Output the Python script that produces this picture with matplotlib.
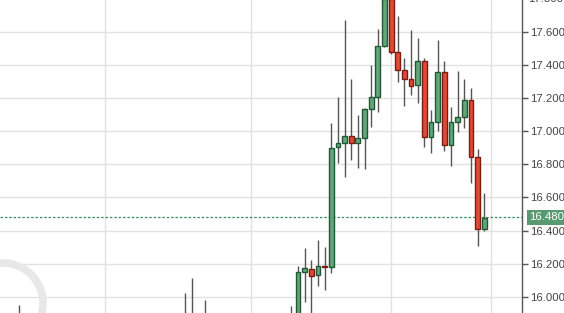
import matplotlib
matplotlib.use("Agg")
import matplotlib.pyplot as plt
from matplotlib.patches import Rectangle, Arc

# candle data (index relative to last candle, open, high, low, close)
idx = [-70, -45, -44, -42, -29,
       -28, -27, -26, -25, -24, -23, -22, -21, -20, -19,
       -18, -17, -16, -15, -14, -13, -12, -11, -10, -9,
       -8, -7, -6, -5, -4, -3, -2, -1, 0]
opens = [15.80, 15.80, 15.80, 15.80, 15.80,
         15.85, 16.148, 16.168, 16.130, 16.182, 16.180, 16.903, 16.927, 16.972, 16.927,
         16.960, 17.133, 17.205, 17.514, 17.800, 17.477, 17.369, 17.314, 17.278, 17.423,
         16.964, 17.054, 17.356, 16.915, 17.054, 17.085, 17.187, 16.843, 16.411]
highs = [15.95, 16.023, 16.115, 15.98, 15.946,
         16.188, 16.297, 16.222, 16.343, 16.303, 17.052, 17.209, 17.673, 17.316, 17.098,
         17.140, 17.401, 17.616, 17.850, 17.860, 17.697, 17.441, 17.612, 17.562, 17.441,
         17.129, 17.552, 17.425, 17.149, 17.364, 17.316, 17.260, 16.891, 16.625]
lows = [15.70, 15.70, 15.70, 15.70, 15.75,
        15.80, 15.970, 15.880, 16.067, 16.041, 16.142, 16.810, 16.726, 16.827, 16.776,
        16.770, 17.028, 17.118, 17.510, 17.465, 17.300, 17.153, 17.219, 17.169, 16.907,
        16.871, 17.000, 16.880, 16.790, 16.998, 17.022, 16.689, 16.307, 16.399]
closes = [15.85, 15.85, 15.85, 15.85, 15.85,
          16.148, 16.172, 16.128, 16.184, 16.180, 16.901, 16.927, 16.972, 16.927, 16.960,
          17.133, 17.205, 17.514, 17.800, 17.477, 17.369, 17.314, 17.276, 17.423, 16.964,
          17.054, 17.356, 16.915, 17.054, 17.085, 17.187, 16.843, 16.411, 16.476]

month_lines = [-57, -35, -14, 1]
y_ticks = [16.0, 16.2, 16.4, 16.6, 16.8, 17.0, 17.2, 17.4, 17.6]
last_price = 16.48

green, green_edge = '#63a67c', '#1f5a34'
red, red_edge = '#e04a37', '#7c1d12'
fs = 8.2

fig = plt.figure(figsize=(5.64, 3.13), dpi=100)
ax = fig.add_axes([0, 0, 521.5 / 564, 1])

for x, o, h, l, c in zip(idx, opens, highs, lows, closes):
    up = c >= o
    ax.vlines(x, l, h, color='#555555', linewidth=1, zorder=2)
    bottom, height = min(o, c), max(abs(c - o), 0.006)
    ax.add_patch(Rectangle((x - 0.36, bottom), 0.72, height,
                           facecolor=green if up else red,
                           edgecolor=green_edge if up else red_edge,
                           linewidth=1, zorder=3))

ax.axhline(last_price, color='#3d8c5e', linewidth=0.9, linestyle=(0, (2, 1.5)), zorder=1)

ax.set_xlim(-72.8, 5.6)
ax.set_ylim(15.902, 17.793)
ax.set_yticks(y_ticks)
ax.set_yticklabels(['%.3f' % v for v in y_ticks])
ax.set_xticks(month_lines)
ax.tick_params(axis='x', length=0, labelbottom=False)
ax.yaxis.tick_right()
ax.tick_params(axis='y', direction='out', length=4, width=1, color='#555555',
               labelsize=fs, labelcolor='#444444', pad=2)
for lbl in ax.get_yticklabels():
    lbl.set_family('Liberation Sans')
ax.grid(True, color='#e2e2e2', linewidth=1, zorder=0)
ax.set_axisbelow(True)
for s in ['top', 'left', 'bottom']:
    ax.spines[s].set_visible(False)
ax.spines['right'].set_color('#555555')
ax.spines['right'].set_linewidth(1)

# partially visible top label
ax.text(1.0 + 6.5 / 521.5, 17.8, '17.800', transform=ax.get_yaxis_transform(),
        ha='left', va='center', fontsize=fs, color='#444444', family='Liberation Sans',
        clip_on=False)

# current price box
ax.text(1.0 + 7.5 / 521.5, last_price, '16.480', transform=ax.get_yaxis_transform(),
        ha='left', va='center', fontsize=fs, color='white', family='Liberation Sans',
        clip_on=False,
        bbox=dict(boxstyle='square,pad=0.2', facecolor='#5a9a72', edgecolor='none'))

# watermark ring, bottom left
fig.patches.append(Arc((3 / 564, 10 / 313), 80 / 564, 80 / 313, theta1=-90, theta2=180,
                       transform=fig.transFigure, color='#e8e8e8', linewidth=5.5, zorder=0))

fig.savefig('out.png', dpi=100)
